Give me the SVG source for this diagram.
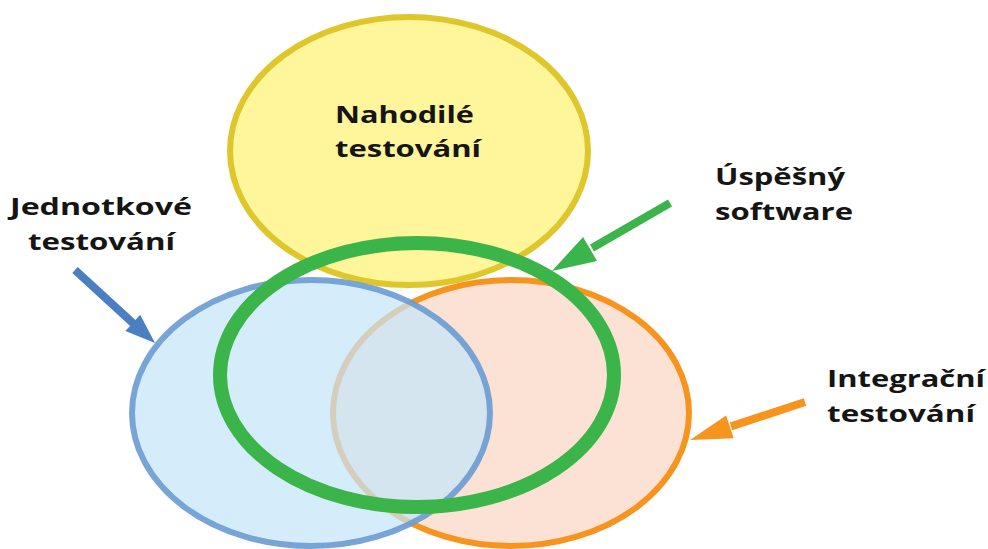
<svg xmlns="http://www.w3.org/2000/svg" width="988" height="549" viewBox="0 0 988 549">
<style>
.lbl{font-family:"Open Sans","Noto Sans","Liberation Sans",sans-serif;font-weight:700;font-size:24px;fill:#151515}
.ashaft{stroke-width:8;stroke-linecap:butt;fill:none}
</style>
<rect width="988" height="549" fill="#ffffff"/>
<g id="nahodile">
<ellipse cx="409" cy="151" rx="179" ry="134" fill="#FFF59A" stroke="#DEC62B" stroke-width="6"/>
<text class="lbl" x="335" y="123" textLength="139" lengthAdjust="spacingAndGlyphs">Nahodilé</text>
<text class="lbl" x="335" y="157" textLength="146" lengthAdjust="spacingAndGlyphs">testování</text>
</g>
<g id="integracni">
<ellipse cx="511" cy="413" rx="178" ry="133" fill="#FCE2D5" stroke="#F7941D" stroke-width="6"/>
<text class="lbl" x="827" y="387" textLength="158" lengthAdjust="spacingAndGlyphs">Integrační</text>
<text class="lbl" x="827" y="422" textLength="148" lengthAdjust="spacingAndGlyphs">testování</text>
</g>
<g id="jednotkove">
<ellipse cx="311" cy="413" rx="179" ry="133" fill="#C5E6F9" fill-opacity="0.72" stroke="#6A9BD2" stroke-opacity="0.9" stroke-width="6"/>
<text class="lbl" x="10" y="215" textLength="182" lengthAdjust="spacingAndGlyphs">Jednotkové</text>
<text class="lbl" x="28" y="250" textLength="147" lengthAdjust="spacingAndGlyphs">testování</text>
</g>
<g id="uspesny">
<ellipse cx="417" cy="375" rx="197" ry="132" fill="none" stroke="#3BB44A" stroke-width="14"/>
<text class="lbl" x="715" y="185" textLength="130" lengthAdjust="spacingAndGlyphs">Úspěšný</text>
<text class="lbl" x="715" y="220" textLength="138" lengthAdjust="spacingAndGlyphs">software</text>
</g>
<g id="connectors">
<line class="ashaft" x1="75" y1="270" x2="135" y2="325" stroke="#4A7FC1"/>
<polygon points="155,343 125.4,330.9 140.2,314.7" fill="#4A7FC1"/>
<line class="ashaft" x1="670" y1="203" x2="592" y2="248" stroke="#3BB44A"/>
<polygon points="552,271 583.1,236.9 597.1,261.1" fill="#3BB44A"/>
<line class="ashaft" x1="805" y1="402" x2="731" y2="426.4" stroke="#F7941D"/>
<polygon points="690,440 726.1,415.4 733.7,438.2" fill="#F7941D"/>
</g>
</svg>
